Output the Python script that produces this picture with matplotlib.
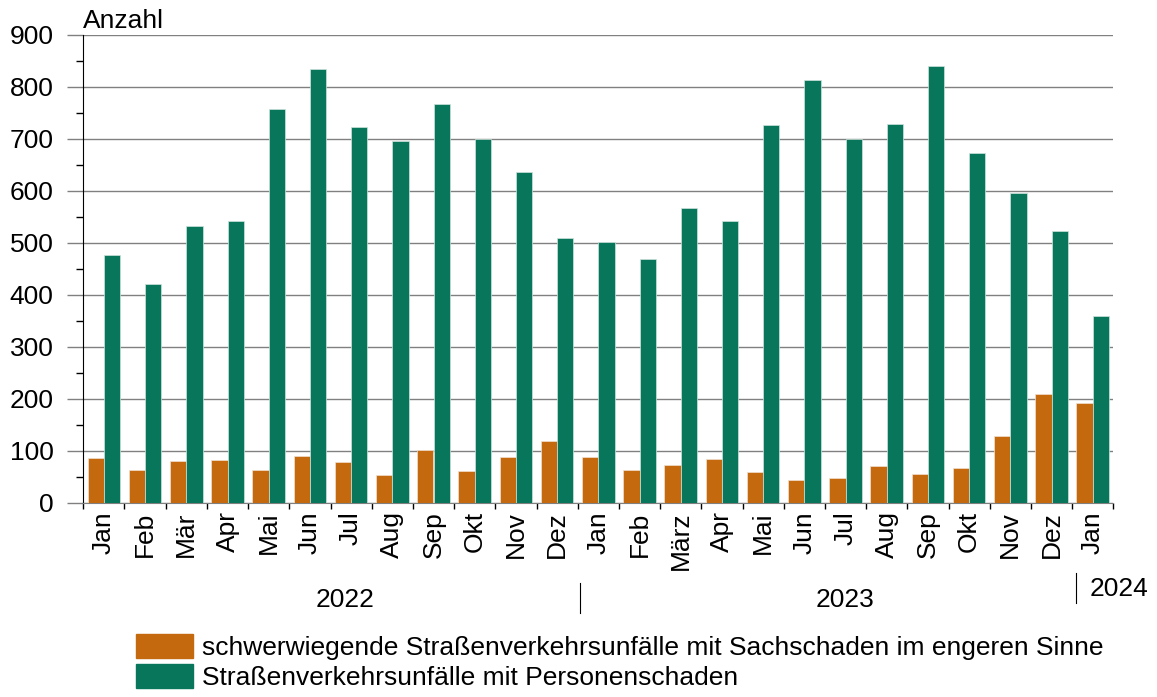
import matplotlib
matplotlib.use("Agg")
import matplotlib.pyplot as plt
import matplotlib.transforms as mtransforms
from matplotlib.ticker import MultipleLocator, FixedLocator, NullFormatter
from matplotlib.patches import Patch
import numpy as np

plt.rcParams['font.family'] = ['Liberation Sans', 'DejaVu Sans']

# data (monthly counts, Jan 2022 .. Jan 2024)
months = ['Jan', 'Feb', 'Mär', 'Apr', 'Mai', 'Jun', 'Jul', 'Aug', 'Sep', 'Okt', 'Nov', 'Dez',
          'Jan', 'Feb', 'März', 'Apr', 'Mai', 'Jun', 'Jul', 'Aug', 'Sep', 'Okt', 'Nov', 'Dez',
          'Jan']
sach = [87, 63, 81, 83, 64, 90, 78, 53, 102, 62, 88, 119,
        88, 64, 73, 84, 60, 45, 49, 72, 56, 67, 128, 210,
        192]
personen = [476, 421, 533, 542, 758, 834, 723, 697, 768, 700, 637, 510,
            501, 470, 567, 543, 727, 813, 700, 728, 841, 673, 596, 523,
            360]
years = ['2022', '2023', '2024']
year_start = [0, 12, 24]   # first month index of each year

lbl_sach = 'schwerwiegende Straßenverkehrsunfälle mit Sachschaden im engeren Sinne'
lbl_pers = 'Straßenverkehrsunfälle mit Personenschaden'

c_orange = '#C5690F'
c_green = '#07765A'
c_grid = '#808080'
fs = 19     # font size used everywhere

fig = plt.figure(figsize=(11.57, 6.97), dpi=100)
ax = fig.add_axes([83.3/1157, 1-503/697, (1113.3-83.3)/1157, (503-35)/697])

x = np.arange(len(months))
w = 0.396
ax.bar(x - w/2, sach, w, color=c_orange, edgecolor='#f0e0d0', lw=0.5, zorder=3)
ax.bar(x + w/2, personen, w, color=c_green, edgecolor='#cfe3dc', lw=0.5, zorder=3)

ax.set_xlim(-0.5, len(months) - 0.5)
ax.set_ylim(0, 900)

# y axis
ax.yaxis.set_major_locator(MultipleLocator(100))
ax.yaxis.set_minor_locator(MultipleLocator(50))
ax.tick_params(axis='y', which='major', length=11.5, width=1, color=c_grid,
               labelsize=fs, pad=10)
ax.tick_params(axis='y', which='minor', length=5, width=1, color='black')
ax.grid(axis='y', color=c_grid, lw=1, zorder=0)

# x axis: ticks between months, labels at month centres
ax.xaxis.set_major_locator(FixedLocator(np.arange(len(months) + 1) - 0.5))
ax.xaxis.set_major_formatter(NullFormatter())
ax.set_xticks(x, months, minor=True, rotation=90, fontsize=fs)
ax.tick_params(axis='x', which='major', length=4, width=1, color='black')
ax.tick_params(axis='x', which='minor', length=0, pad=6)

for s in ['top', 'right']:
    ax.spines[s].set_visible(False)
ax.spines['bottom'].set_color(c_grid)
ax.spines['left'].set_color('black')

ax.text(0, 1.005, 'Anzahl', transform=ax.transAxes, fontsize=fs, ha='left', va='bottom')

# year labels and separators below the month labels
trans = mtransforms.blended_transform_factory(ax.transData, fig.transFigure)
ax.text(5.85, 1-600/697, years[0], transform=trans, fontsize=fs, ha='center', va='center')
ax.text(17.98, 1-600/697, years[1], transform=trans, fontsize=fs, ha='center', va='center')
ax.text(23.93, 1-589/697, years[2], transform=trans, fontsize=fs, ha='left', va='center')
ax.plot([year_start[1] - 0.45] * 2, [1-583/697, 1-613/697], color='black', lw=0.8,
        transform=trans, clip_on=False)
ax.plot([year_start[2] - 0.4] * 2, [1-573/697, 1-603/697], color='black', lw=0.8,
        transform=trans, clip_on=False)

# legend
handles = [Patch(color=c_orange), Patch(color=c_green)]
fig.legend(handles, [lbl_sach, lbl_pers], loc='upper left',
           bbox_to_anchor=(136/1157, 1-634/697), frameon=False, fontsize=fs,
           handlelength=2.15, handleheight=1.03, handletextpad=0.35,
           labelspacing=0.15, borderpad=0, borderaxespad=0)

fig.savefig('out.png', dpi=100)
